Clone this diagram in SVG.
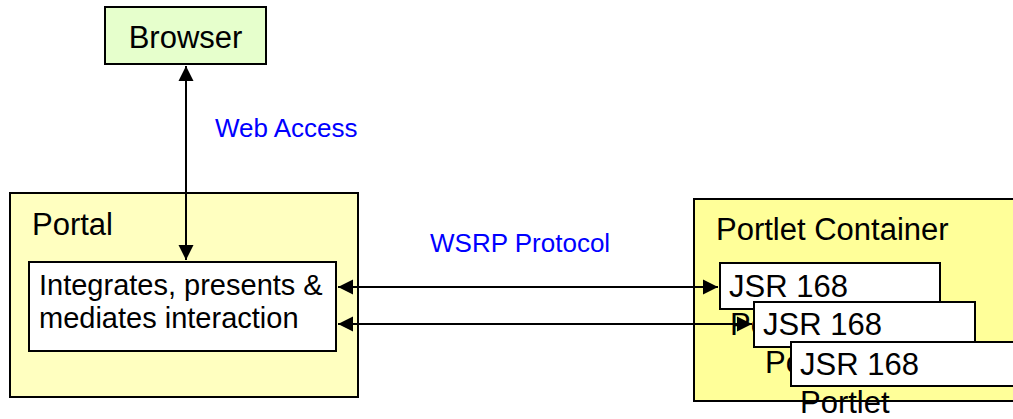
<svg xmlns="http://www.w3.org/2000/svg" width="1013" height="419" viewBox="0 0 1013 419">
<style>
.box{stroke:#000;stroke-width:2}
.t{font-family:"Liberation Sans",Arial,sans-serif;fill:#000}
.big{font-size:31px}
.mid{font-size:29px}
.lbl{font-family:"Liberation Sans",Arial,sans-serif;font-size:26px;fill:#0000FF}
.conn{stroke:#000;stroke-width:2;fill:none}
</style>
<defs>
<marker id="ah" markerUnits="userSpaceOnUse" markerWidth="16" markerHeight="16" viewBox="0 0 16 16" refX="15" refY="8" orient="auto-start-reverse">
<path d="M0,0.5 L15,8 L0,15.5 z" fill="#000"/>
</marker>
</defs>
<rect width="1013" height="419" fill="#fff"/>
<g id="browser">
<rect class="box" x="105" y="7" width="161" height="57" fill="#E6FFCC"/>
<text class="t big" x="185.5" y="48" text-anchor="middle">Browser</text>
</g>
<g id="portal">
<rect class="box" x="10" y="193" width="348" height="204" fill="#FFFFC0"/>
<text class="t big" x="32" y="235">Portal</text>
</g>
<g id="integrates">
<rect class="box" x="29" y="262" width="307" height="89" fill="#fff"/>
<text class="t mid" x="39" y="295">Integrates, presents &amp;</text>
<text class="t mid" x="39" y="328">mediates interaction</text>
</g>
<g id="container">
<rect class="box" x="694" y="199" width="330" height="202" fill="#FFFF99"/>
<text class="t big" x="716" y="240">Portlet Container</text>
</g>
<g id="portlet1">
<rect class="box" x="720" y="263" width="220" height="46" fill="#fff"/>
<text class="t big" x="729" y="297">JSR 168</text>
<text class="t big" x="730" y="335">Portlet</text>
</g>
<g id="portlet2">
<rect class="box" x="754" y="302" width="221" height="45" fill="#fff"/>
<text class="t big" x="763" y="335">JSR 168</text>
<text class="t big" x="765" y="373">Portlet</text>
</g>
<g id="portlet3">
<rect class="box" x="791" y="342" width="230" height="44" fill="#fff"/>
<text class="t big" x="800" y="375">JSR 168</text>
<text class="t big" x="800" y="413">Portlet</text>
</g>
<g id="connectors">
<line class="conn" x1="186" y1="66" x2="186" y2="260" marker-start="url(#ah)" marker-end="url(#ah)"/>
<line class="conn" x1="338" y1="287" x2="718" y2="287" marker-start="url(#ah)" marker-end="url(#ah)"/>
<line class="conn" x1="338" y1="324" x2="752" y2="324" marker-start="url(#ah)" marker-end="url(#ah)"/>
</g>
<g id="labels">
<text class="lbl" x="215" y="137">Web Access</text>
<text class="lbl" x="430" y="252">WSRP Protocol</text>
</g>
</svg>
